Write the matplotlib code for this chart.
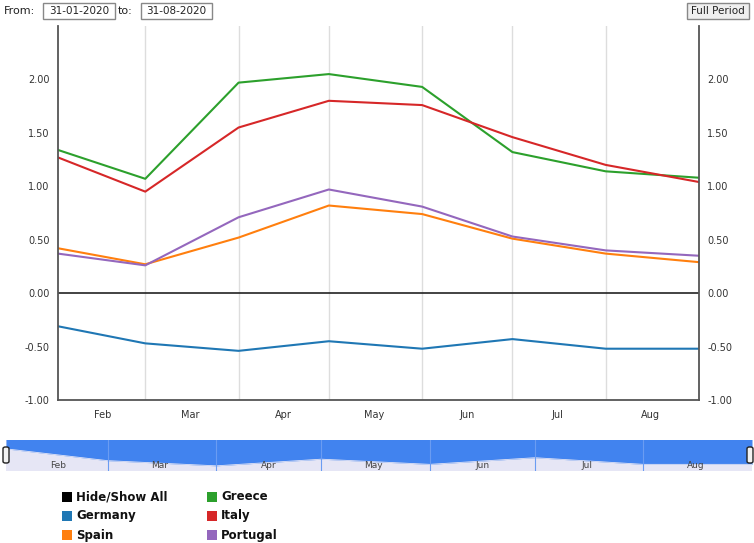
import datetime as dt
import matplotlib
matplotlib.use("Agg")
import matplotlib.pyplot as plt
import matplotlib.dates as mdates
from matplotlib.patches import Rectangle, FancyBboxPatch

dates = [dt.date(2020, 1, 31), dt.date(2020, 2, 29), dt.date(2020, 3, 31), dt.date(2020, 4, 30),
         dt.date(2020, 5, 31), dt.date(2020, 6, 30), dt.date(2020, 7, 31), dt.date(2020, 8, 31)]
germany = [-0.31, -0.47, -0.54, -0.45, -0.52, -0.43, -0.52, -0.52]
spain = [0.42, 0.27, 0.52, 0.82, 0.74, 0.51, 0.37, 0.29]
greece = [1.34, 1.07, 1.97, 2.05, 1.93, 1.32, 1.14, 1.08]
italy = [1.27, 0.95, 1.55, 1.80, 1.76, 1.46, 1.20, 1.04]
portugal = [0.37, 0.26, 0.71, 0.97, 0.81, 0.53, 0.40, 0.35]
months = ["Feb", "Mar", "Apr", "May", "Jun", "Jul", "Aug"]
yticks = [-1.0, -0.5, 0.0, 0.5, 1.0, 1.5, 2.0]

series = [("Germany", germany, "#1f77b4"), ("Spain", spain, "#ff7f0e"),
          ("Greece", greece, "#2ca02c"), ("Italy", italy, "#d62728"),
          ("Portugal", portugal, "#9467bd")]

W, H = 754, 543
fig = plt.figure(figsize=(W / 100, H / 100), dpi=100)

def box(x0, y0, x1, y1):
    return [x0 / W, 1 - y1 / H, (x1 - x0) / W, (y1 - y0) / H]

# main chart
ax = fig.add_axes(box(58, 26, 699, 400))
for name, vals, col in series:
    ax.plot(dates, vals, color=col, lw=1.5)
ax.axhline(0, color="#222222", lw=1.2)
for d in dates[1:-1]:
    ax.axvline(d, color="#dddddd", lw=1, zorder=0)
ax.set_xlim(dates[0], dates[-1])
ax.set_ylim(-1.0, 2.5)
ax.set_yticks(yticks)
ax.set_yticklabels(["%.2f" % v for v in yticks])
mids = [dt.date(2020, m, 15) for m in range(2, 9)]
ax.set_xticks(mids)
ax.set_xticklabels(months)
ax.tick_params(axis="both", length=0, labelsize=7, colors="#333333", pad=7)
ax.tick_params(axis="y", labelright=True, right=False, pad=6)
for s in ["left", "right", "bottom"]:
    ax.spines[s].set_color("#555555")
    ax.spines[s].set_linewidth(1.3)
ax.spines["top"].set_visible(False)

# navigator
nav = fig.add_axes(box(6, 440, 752, 471))
nav.set_facecolor("#e6e6f5")
nav.fill_between(dates, germany, 0, color="#4183ef", lw=0)
nav.plot(dates, germany, color="#e6e6f5", lw=0.6)
for d in dates[1:-1]:
    nav.axvline(d, color="#6a9cf2", lw=0.8)
nav.set_xlim(dates[0], dates[-1])
nav.set_ylim(-0.61, -0.19)
nav.set_yticks([])
nav.set_xticks([])
for s in nav.spines.values():
    s.set_visible(False)
for m, d in zip(months, mids):
    nav.text(d, -0.53, m, ha="center", va="center", fontsize=6.5, color="#444444")
for hx in [6, 750]:
    fig.patches.append(FancyBboxPatch(((hx - 3) / W, 1 - 463 / H), 6 / W, 16 / H,
                                      boxstyle="round,pad=0,rounding_size=0.003",
                                      transform=fig.transFigure, fc="#f2f2f2", ec="#222222", lw=1))

# top controls
fig.text(4 / W, 1 - 11 / H, "From:", fontsize=8, va="center", color="#222222")
fig.text(118 / W, 1 - 11 / H, "to:", fontsize=8, va="center", color="#222222")
for x0, x1, label, fc in [(43, 115, "31-01-2020", "white"), (141, 212, "31-08-2020", "white"),
                          (687, 749, "Full Period", "#efefef")]:
    fig.patches.append(Rectangle((x0 / W, 1 - 19 / H), (x1 - x0) / W, 16 / H,
                                 transform=fig.transFigure, fc=fc, ec="#888888", lw=1))
    fig.text((x0 + x1) / 2 / W, 1 - 11 / H, label, fontsize=7.5, ha="center", va="center", color="#222222")

# legend
legend_items = [("Hide/Show All", "#000000", 62, 497), ("Germany", "#1f77b4", 62, 516),
                ("Spain", "#ff7f0e", 62, 535), ("Greece", "#2ca02c", 207, 497),
                ("Italy", "#d62728", 207, 516), ("Portugal", "#9467bd", 207, 535)]
for label, col, lx, ly in legend_items:
    fig.patches.append(Rectangle((lx / W, 1 - (ly + 5) / H), 10 / W, 10 / H,
                                 transform=fig.transFigure, fc=col, ec="none"))
    fig.text((lx + 14) / W, 1 - ly / H, label, fontsize=8.5, fontweight="bold",
             va="center", color="#111111")

fig.savefig("out.png", dpi=100)
